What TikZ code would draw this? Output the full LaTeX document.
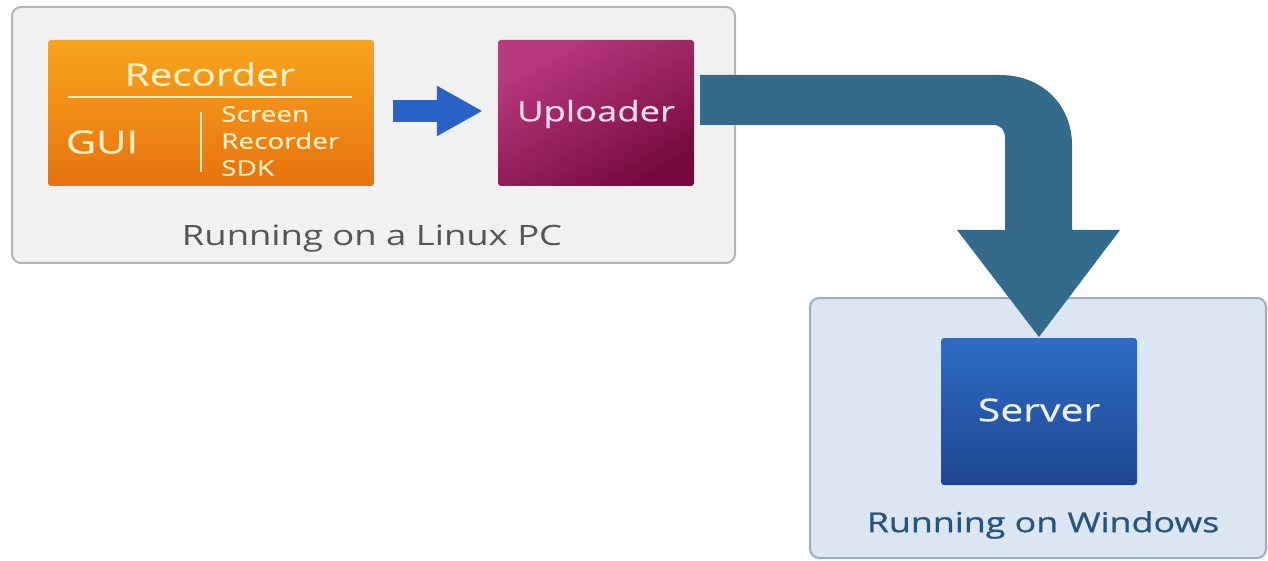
\documentclass[tikz,border=0pt]{standalone}
\usepackage{fontspec}
\setmainfont[FakeStretch=1.3]{Open Sans}
\newfontfamily\semiboldish[FakeStretch=1.3,FakeBold=0.8]{Open Sans}
\newfontfamily\mediumish[FakeStretch=1.3,FakeBold=0.4]{Open Sans}
\usetikzlibrary{arrows.meta,calc}
\definecolor{lingray}{HTML}{F1F1F1}
\definecolor{linborder}{HTML}{B4B4B4}
\definecolor{winfill}{HTML}{DCE6F2}
\definecolor{winborder}{HTML}{9CADBF}
\definecolor{orangetop}{HTML}{F7A41C}
\definecolor{orangebot}{HTML}{E8720E}
\definecolor{magtop}{HTML}{BA3A80}
\definecolor{magbot}{HTML}{760A40}
\definecolor{servtop}{HTML}{2E6DC6}
\definecolor{servbot}{HTML}{1E4690}
\definecolor{cream}{HTML}{FFF0C8}
\definecolor{pinktext}{HTML}{F9DDEB}
\definecolor{bigarrow}{HTML}{346A8C}
\definecolor{smallarrow}{HTML}{2A63C8}
\definecolor{linlabel}{HTML}{555555}
\definecolor{winlabel}{HTML}{25557E}
\begin{document}
\begin{tikzpicture}[x=1pt,y=-1pt,
  container/.style={draw=linborder,line width=2pt,fill=lingray,rounded corners=9pt},
  comp/.style={rounded corners=3pt,minimum width=196pt,minimum height=146pt,inner sep=0pt}
]
\useasboundingbox (0,0) rectangle (1268,561);
% containers
\node[container,minimum width=723pt,minimum height=256pt,inner sep=0pt] (linux) at (373.5,135) {};
\node[container,draw=winborder,fill=winfill,minimum width=456pt,minimum height=260pt,inner sep=0pt] (win) at (1038,428) {};
% recorder
\node[comp,minimum width=326pt,top color=orangetop,bottom color=orangebot] (rec) at (211,113) {};
\node[text=cream,font=\mediumish\fontsize{31}{33}\selectfont] (rectitle) at (210,74) {Recorder};
\draw[cream,line width=1.5pt] (68,97) coordinate (rl1) -- (352,97) coordinate (rl2);
\node[text=cream,font=\mediumish\fontsize{32}{34}\selectfont] (gui) at (102,142) {GUI};
\draw[cream,line width=2pt] (201,112) coordinate (vl1) -- (201,172) coordinate (vl2);
\node[anchor=west,text=cream,align=left,inner sep=0pt,font=\mediumish\fontsize{21.5}{27}\selectfont] (sdk) at (221,141) {Screen\\Recorder\\SDK};
% uploader
\node[comp,shading=axis,top color=magtop,bottom color=magbot,shading angle=30] (upl) at (596,113) {};
\node[text=pinktext,font=\mediumish\fontsize{28}{30}\selectfont] (upltext) at (596,114) {Uploader};
% server
\node[comp,minimum height=147pt,top color=servtop,bottom color=servbot] (serv) at (1039,411.5) {};
\node[font=\mediumish\fontsize{31.5}{33}\selectfont,text=white!92!servtop] (servtext) at (1039,410) {Server};
% labels
\node[text=linlabel,font=\fontsize{28}{30}\selectfont] (linlab) at (372,239) {Running on a Linux PC};
\node[text=winlabel,font=\semiboldish\fontsize{27.5}{30}\selectfont] (winlab) at (1043,525) {Running on Windows};
% small arrow
\draw[smallarrow,line width=22pt,-{Triangle[length=46pt,width=47pt]}] ($(rec.east)+(19,-2)$) -- ($(upl.west)+(-15,-2)$);
% big arrow
\coordinate (a0) at ($(upl.east)+(6,-38)$);
\fill[bigarrow] (a0) -- (1000,75) .. controls (1042,75) and (1072,105) .. (1072,145)
  -- (1072,230) -- (1120,230) -- (serv.north |- 0,337) -- (957,230) -- (1005,230) -- (1005,138)
  .. controls (1005,130) and (1001,125) .. (993,125) -- ($(upl.east)+(6,12)$) -- cycle;
\end{tikzpicture}
\end{document}
